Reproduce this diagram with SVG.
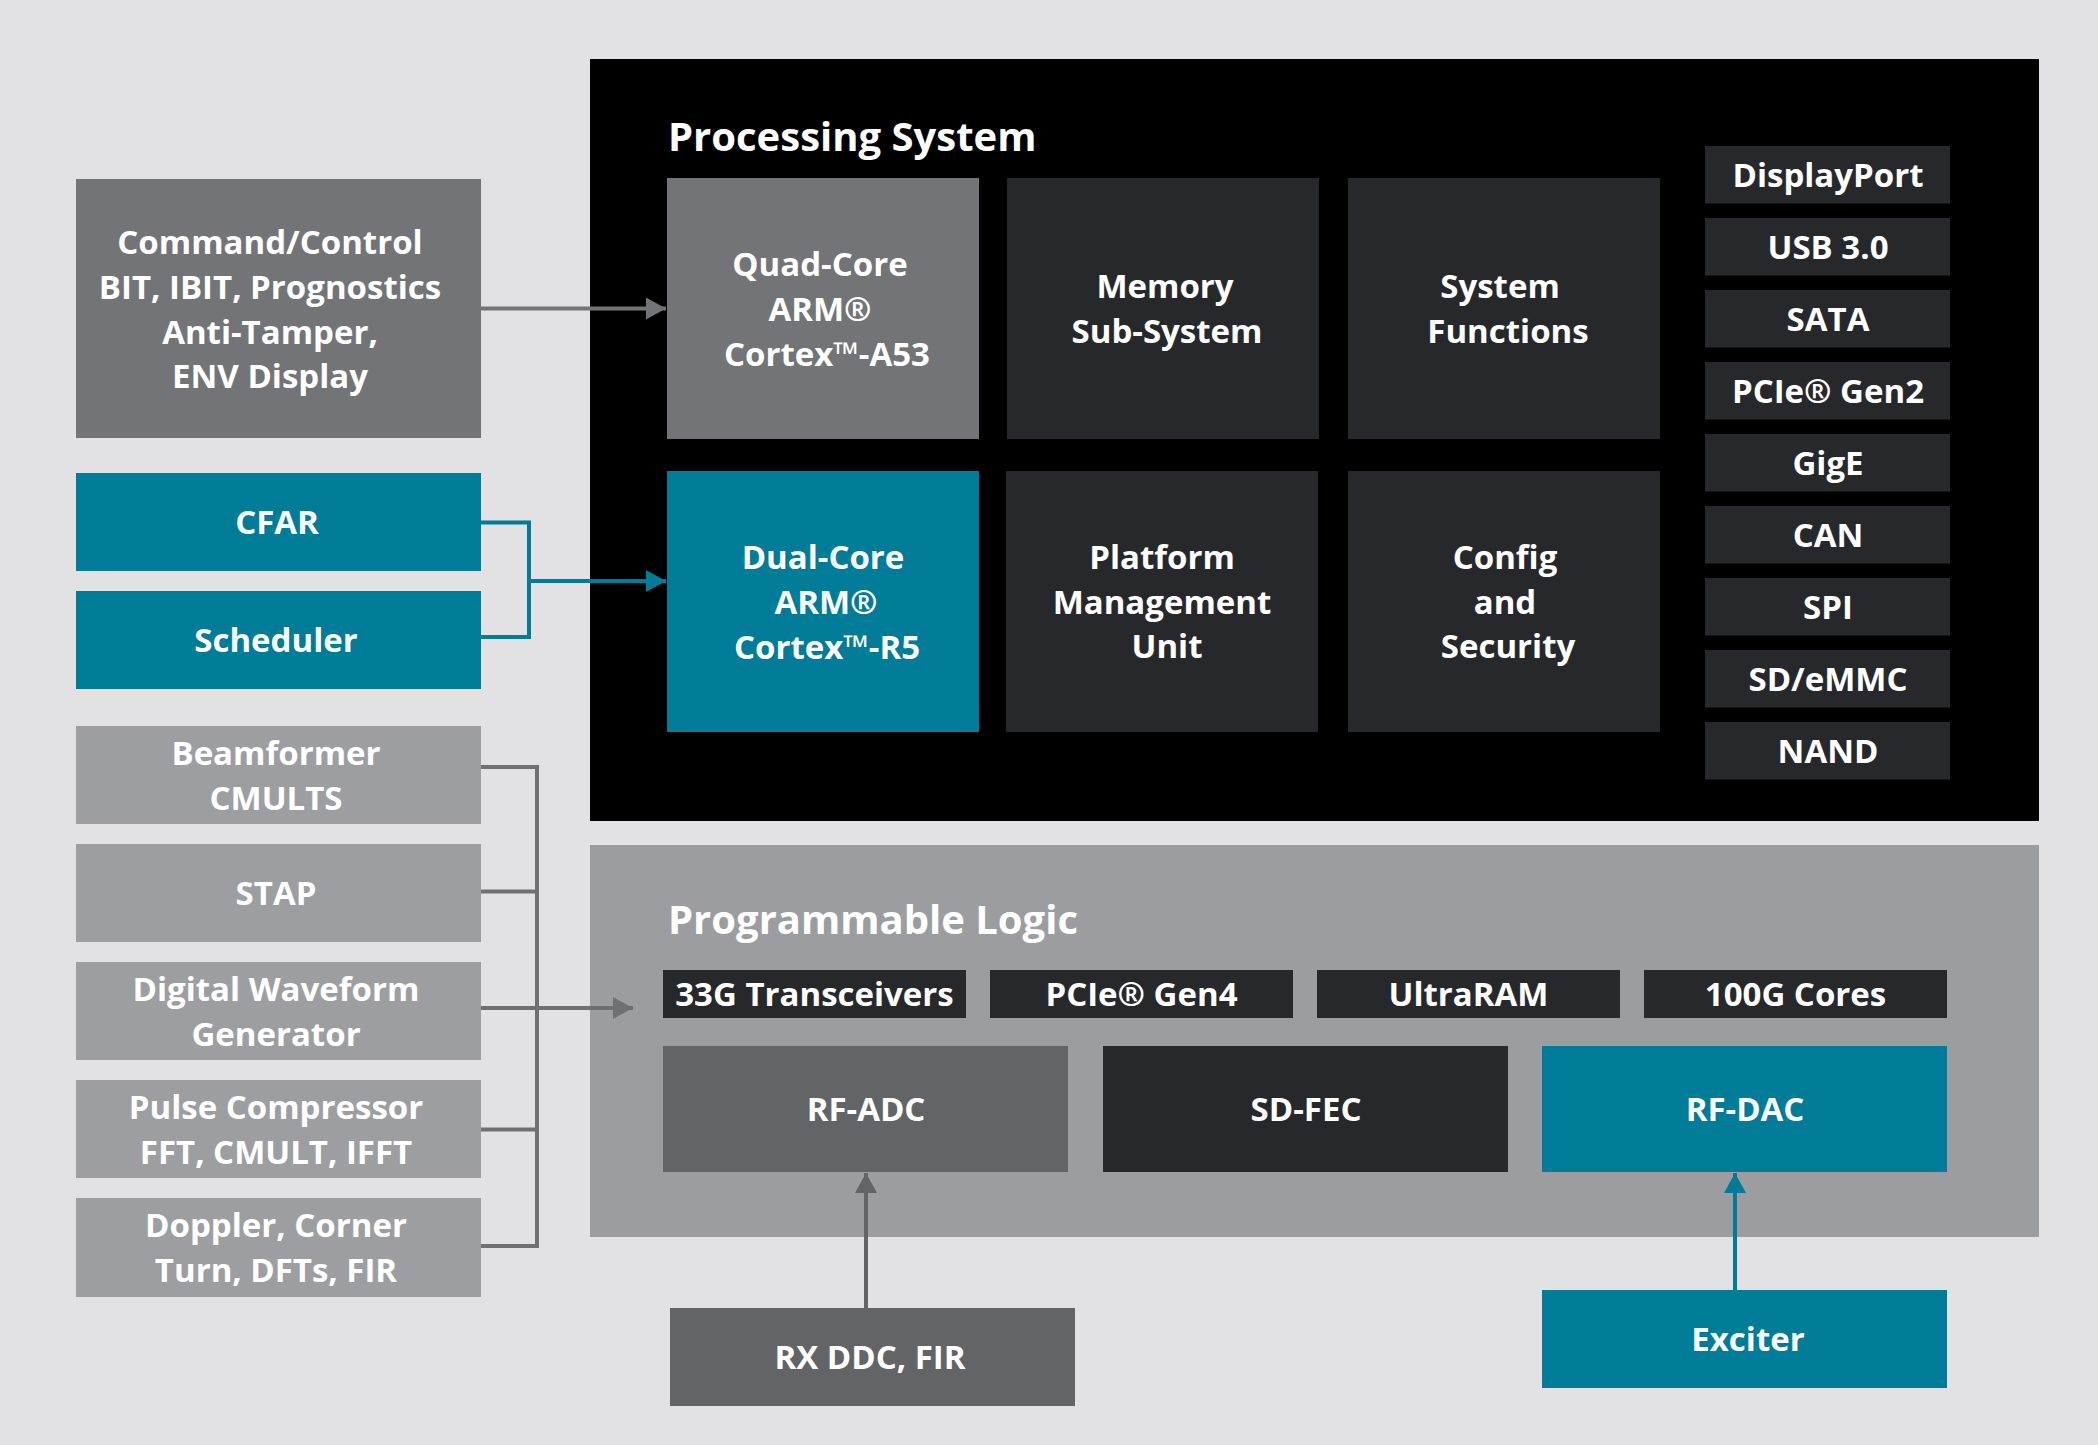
<svg xmlns="http://www.w3.org/2000/svg" width="2098" height="1445" viewBox="0 0 2098 1445">
<defs>
<style>
.t{font-family:"Open Sans","Liberation Sans",sans-serif;font-weight:700;fill:#ffffff;text-anchor:middle;font-size:33px;transform:translateY(-1.5px)}
.title{font-family:"Open Sans","Liberation Sans",sans-serif;font-weight:700;fill:#ffffff;font-size:40px}
.mid{fill:#737478}
.light{fill:#9d9ea2}
.dark{fill:#27282c}
.teal{fill:#007c98}
.adc{fill:#636467}
.ln{fill:none;stroke-width:4}
</style>
<marker id="aGray" markerUnits="userSpaceOnUse" markerWidth="20" markerHeight="22" refX="20" refY="11" orient="auto"><path d="M0,0 L20,11 L0,22 Z" fill="#737478"/></marker>
<marker id="aTeal" markerUnits="userSpaceOnUse" markerWidth="20" markerHeight="22" refX="20" refY="11" orient="auto"><path d="M0,0 L20,11 L0,22 Z" fill="#007c98"/></marker>
<marker id="aLow" markerUnits="userSpaceOnUse" markerWidth="20" markerHeight="22" refX="20" refY="11" orient="auto"><path d="M0,0 L20,11 L0,22 Z" fill="#6f7074"/></marker>
<marker id="aAdc" markerUnits="userSpaceOnUse" markerWidth="20" markerHeight="22" refX="20" refY="11" orient="auto"><path d="M0,0 L20,11 L0,22 Z" fill="#636467"/></marker>
</defs>
<rect width="2098" height="1445" fill="#e2e2e4"/>

<g id="processing-system">
<rect x="590" y="59" width="1449" height="762" fill="#000000"/>
<text class="title" x="668" y="151">Processing System</text>
</g>
<g id="programmable-logic">
<rect x="590" y="845" width="1449" height="392" fill="#9c9da1"/>
<text class="title" x="668" y="934">Programmable Logic</text>
</g>

<g id="connectors">
<path class="ln" stroke="#737478" d="M481,308.5 H666" marker-end="url(#aGray)"/>
<path class="ln" stroke="#007c98" d="M481,522.5 H529 V637 H481"/>
<path class="ln" stroke="#007c98" d="M529,581 H666" marker-end="url(#aTeal)"/>
<path class="ln" stroke="#6f7074" d="M481,767 H537 V1246 H481 M481,891.5 H537 M481,1129.5 H537"/>
<path class="ln" stroke="#6f7074" d="M481,1008 H633" marker-end="url(#aLow)"/>
<path class="ln" stroke="#636467" d="M866,1308 V1173" marker-end="url(#aAdc)"/>
<path class="ln" stroke="#007c98" d="M1735,1290 V1173" marker-end="url(#aTeal)"/>
</g>

<g id="command-control">
<rect class="mid" x="76" y="179" width="405" height="259"/>
<text class="t" x="270" y="255">Command/Control</text>
<text class="t" x="270" y="300">BIT, IBIT, Prognostics</text>
<text class="t" x="270" y="345">Anti-Tamper,</text>
<text class="t" x="270" y="389">ENV Display</text>
</g>
<g id="cfar">
<rect class="teal" x="76" y="473" width="405" height="98"/>
<text class="t" x="277" y="535.5">CFAR</text>
</g>
<g id="scheduler">
<rect class="teal" x="76" y="591" width="405" height="98"/>
<text class="t" x="276" y="653.5">Scheduler</text>
</g>
<g id="beamformer">
<rect class="light" x="76" y="726" width="405" height="98"/>
<text class="t" x="276" y="766">Beamformer</text>
<text class="t" x="276" y="811">CMULTS</text>
</g>
<g id="stap">
<rect class="light" x="76" y="844" width="405" height="98"/>
<text class="t" x="276" y="906.5">STAP</text>
</g>
<g id="digital-waveform">
<rect class="light" x="76" y="962" width="405" height="98"/>
<text class="t" x="276" y="1002">Digital Waveform</text>
<text class="t" x="276" y="1047">Generator</text>
</g>
<g id="pulse-compressor">
<rect class="light" x="76" y="1080" width="405" height="98"/>
<text class="t" x="276" y="1120">Pulse Compressor</text>
<text class="t" x="276" y="1165">FFT, CMULT, IFFT</text>
</g>
<g id="doppler">
<rect class="light" x="76" y="1198" width="405" height="99"/>
<text class="t" x="276" y="1238.5">Doppler, Corner</text>
<text class="t" x="276" y="1283.5">Turn, DFTs, FIR</text>
</g>

<g id="quad-core">
<rect class="mid" x="667" y="178" width="312" height="261"/>
<text class="t" x="820" y="277">Quad-Core</text>
<text class="t" x="820" y="322">ARM®</text>
<text class="t" x="827" y="367">Cortex™-A53</text>
</g>
<g id="memory">
<rect class="dark" x="1007" y="178" width="312" height="261"/>
<text class="t" x="1165" y="299">Memory</text>
<text class="t" x="1167" y="344">Sub-System</text>
</g>
<g id="system-functions">
<rect class="dark" x="1348" y="178" width="312" height="261"/>
<text class="t" x="1500" y="299">System</text>
<text class="t" x="1508" y="344">Functions</text>
</g>
<g id="dual-core">
<rect class="teal" x="667" y="471" width="312" height="261"/>
<text class="t" x="823" y="570">Dual-Core</text>
<text class="t" x="826" y="615">ARM®</text>
<text class="t" x="827" y="660">Cortex™-R5</text>
</g>
<g id="platform">
<rect class="dark" x="1006" y="471" width="312" height="261"/>
<text class="t" x="1162" y="570">Platform</text>
<text class="t" x="1162" y="615">Management</text>
<text class="t" x="1167" y="659">Unit</text>
</g>
<g id="config">
<rect class="dark" x="1348" y="471" width="312" height="261"/>
<text class="t" x="1505" y="570">Config</text>
<text class="t" x="1505" y="615">and</text>
<text class="t" x="1508" y="659">Security</text>
</g>

<g id="displayport"><rect class="dark" x="1705" y="146" width="245" height="57.5"/><text class="t" x="1828" y="188">DisplayPort</text></g>
<g id="usb"><rect class="dark" x="1705" y="218" width="245" height="57.5"/><text class="t" x="1828" y="260">USB 3.0</text></g>
<g id="sata"><rect class="dark" x="1705" y="290" width="245" height="57.5"/><text class="t" x="1828" y="332">SATA</text></g>
<g id="pcie-gen2"><rect class="dark" x="1705" y="362" width="245" height="57.5"/><text class="t" x="1828" y="404">PCIe® Gen2</text></g>
<g id="gige"><rect class="dark" x="1705" y="434" width="245" height="57.5"/><text class="t" x="1828" y="476">GigE</text></g>
<g id="can"><rect class="dark" x="1705" y="506" width="245" height="57.5"/><text class="t" x="1828" y="548">CAN</text></g>
<g id="spi"><rect class="dark" x="1705" y="578" width="245" height="57.5"/><text class="t" x="1828" y="620">SPI</text></g>
<g id="sd-emmc"><rect class="dark" x="1705" y="650" width="245" height="57.5"/><text class="t" x="1828" y="692">SD/eMMC</text></g>
<g id="nand"><rect class="dark" x="1705" y="722" width="245" height="57.5"/><text class="t" x="1828" y="764">NAND</text></g>

<g id="transceivers"><rect class="dark" x="663" y="970" width="303" height="48"/><text class="t" x="814.5" y="1007.5">33G Transceivers</text></g>
<g id="pcie-gen4"><rect class="dark" x="990" y="970" width="303" height="48"/><text class="t" x="1141.5" y="1007.5">PCIe® Gen4</text></g>
<g id="ultraram"><rect class="dark" x="1317" y="970" width="303" height="48"/><text class="t" x="1468.5" y="1007.5">UltraRAM</text></g>
<g id="cores-100g"><rect class="dark" x="1644" y="970" width="303" height="48"/><text class="t" x="1795.5" y="1007.5">100G Cores</text></g>

<g id="rf-adc"><rect class="adc" x="663" y="1046" width="405" height="126"/><text class="t" x="866" y="1122.5">RF-ADC</text></g>
<g id="sd-fec"><rect class="dark" x="1103" y="1046" width="405" height="126"/><text class="t" x="1306" y="1122.5">SD-FEC</text></g>
<g id="rf-dac"><rect class="teal" x="1542" y="1046" width="405" height="126"/><text class="t" x="1745" y="1122.5">RF-DAC</text></g>

<g id="rx-ddc"><rect class="adc" x="670" y="1308" width="405" height="98"/><text class="t" x="870" y="1370.5">RX DDC, FIR</text></g>
<g id="exciter"><rect class="teal" x="1542" y="1290" width="405" height="98"/><text class="t" x="1748" y="1352.5">Exciter</text></g>
</svg>
